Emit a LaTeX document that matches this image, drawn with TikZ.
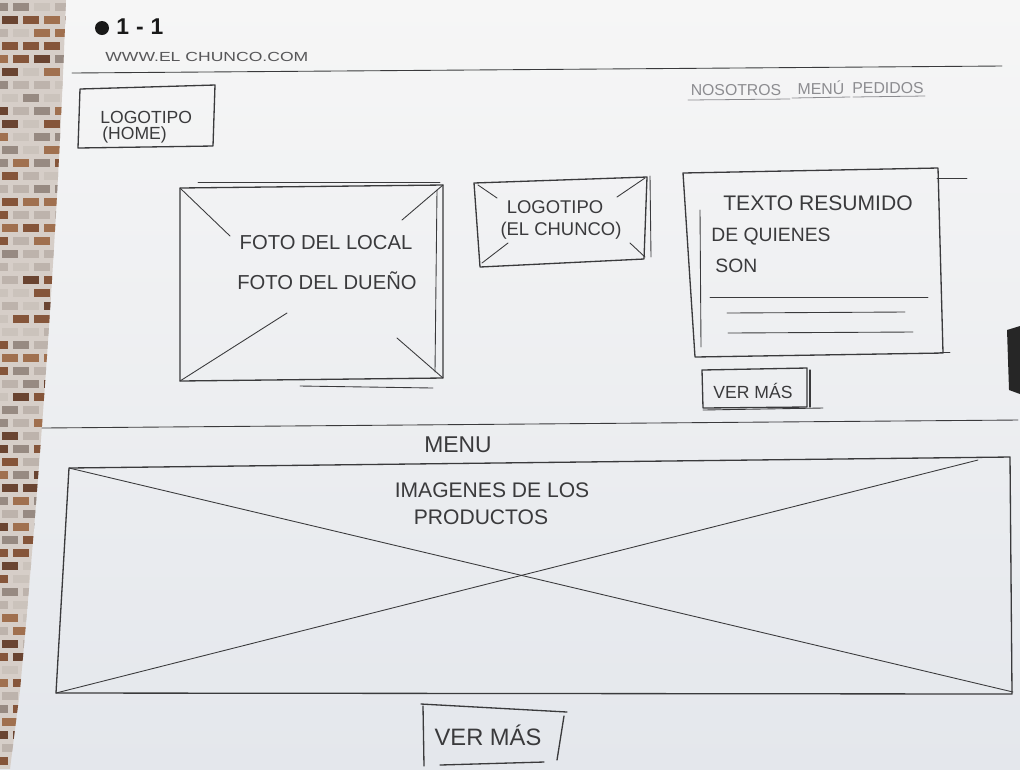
\documentclass[tikz,border=0pt]{standalone}
\usepackage{fontspec}
\setmainfont{Liberation Sans}
\definecolor{ink}{HTML}{3A3A3C}
\definecolor{faint}{HTML}{8C8C90}
\definecolor{papertop}{HTML}{F6F6F6}
\definecolor{paperbot}{HTML}{E4E7EC}
\definecolor{mortar}{HTML}{D6CEC8}
\definecolor{brick0}{HTML}{85553A}
\definecolor{brick1}{HTML}{A0704F}
\definecolor{brick2}{HTML}{BDB3AC}
\definecolor{brick3}{HTML}{978A82}
\definecolor{brick4}{HTML}{6A4431}
\definecolor{brick5}{HTML}{CBC3BC}
\begin{document}
\begin{tikzpicture}[x=0.02cm,y=-0.02cm,
  pen/.style={draw=ink, line width=0.75pt, line cap=round, line join=round},
  thin/.style={draw=ink, line width=0.5pt, line cap=round},
  light/.style={draw=faint, line width=0.45pt, line cap=round},
  hand/.style={text=ink, inner sep=0pt, align=center},
  navtext/.style={text=faint, inner sep=0pt, font=\fontsize{9}{10}\selectfont}]
\useasboundingbox (0,0) rectangle (1020,769);
% paper
\shade[top color=papertop, bottom color=paperbot] (0,0) rectangle (1020,769);
% brick strip on the left
\begin{scope}
  \clip (0,0) -- (66,0) .. controls (58,220) and (42,450) .. (20,690) -- (10,769) -- (0,769) -- cycle;
  \fill[mortar] (0,0) rectangle (70,769);
  \pgfmathsetseed{11}
  \foreach \r in {0,...,59}{
    \foreach \c in {0,...,3}{
      \pgfmathrandominteger{\k}{0}{5}
      \pgfmathsetmacro{\xo}{mod(\r,2)*10-8}
      \fill[brick\k] ({\c*21+\xo},{\r*13+3}) rectangle ++(16,8);
    }
  }
\end{scope}
% dark object at right edge
\fill[black!85] (1007,330) -- (1020,326) -- (1020,394) -- (1009,390) -- cycle;

% header
\fill[black!90] (102,28) circle (7);
\node[hand, font=\bfseries\fontsize{13}{14}\selectfont, anchor=west, text=black!90] (num) at (116,27) {1\hspace{4pt}-\hspace{4pt}1};
\node[hand, anchor=west, text=ink!85] (url) at (105,57) {\scalebox{1}[0.75]{\fontsize{10}{11}\selectfont WWW.EL CHUNCO.COM}};
\draw[thin] (72,73) -- (1002,66);

% navigation
\node[navtext] (nav1) at (736,90) {NOSOTROS};
\node[navtext] (nav2) at (821,88) {MENÚ};
\node[navtext] (nav3) at (888,88) {PEDIDOS};
\draw[light] (688,100) -- (790,99);
\draw[light] (792,98) -- (850,97);
\draw[light] (853,97) -- (925,96);

% logotipo (home)
\draw[pen] (80,89) -- (215,85) -- (213,146) -- (78,148) -- cycle;
\node[hand, font=\fontsize{10}{11}\selectfont, anchor=west] (logoh1) at (100,117) {LOGOTIPO};
\node[hand, font=\fontsize{10}{11}\selectfont, anchor=west] (logoh2) at (102,135) {(HOME)};

% photo box
\draw[pen] (180,188) -- (443,185) -- (443,378) -- (180,381) -- cycle;
\draw[thin] (198,182) -- (440,182);
\draw[thin] (437,190) -- (435,372);
\draw[thin] (300,386) -- (433,388);
\draw[thin] (180,188) -- (230,236);
\draw[thin] (443,185) -- (402,220);
\draw[thin] (180,381) -- (287,313);
\draw[thin] (443,378) -- (397,338);
\node[hand, font=\fontsize{11.5}{12}\selectfont] (foto1) at (326,243) {FOTO DEL LOCAL};
\node[hand, font=\fontsize{11.5}{12}\selectfont] (foto2) at (327,281) {FOTO DEL DUEÑO};

% logotipo (el chunco)
\draw[pen] (474,183) -- (647,177) -- (644,259) -- (480,267) -- cycle;
\draw[thin] (650,176) -- (651,257);
\draw[thin] (478,185) -- (497,198);
\draw[thin] (645,178) -- (617,197);
\draw[thin] (482,263) -- (508,243);
\draw[thin] (645,257) -- (630,243);
\node[hand, font=\fontsize{10.5}{11}\selectfont] (logoc1) at (555,207) {LOGOTIPO};
\node[hand, font=\fontsize{10.5}{11}\selectfont] (logoc2) at (561,231) {(EL CHUNCO)};

% summary text box
\draw[pen] (683,173) -- (938,168) -- (943,353) -- (695,357) -- cycle;
\draw[thin] (937,178) -- (967,178);
\draw[thin] (700,210) -- (701,347);
\draw[thin] (940,352) -- (950,352);
\node[hand, font=\fontsize{12}{13}\selectfont] (txt1) at (818,203) {TEXTO RESUMIDO};
\node[hand, font=\fontsize{11}{12}\selectfont, anchor=west] (txt2) at (711,237) {DE QUIENES};
\node[hand, font=\fontsize{11}{12}\selectfont, anchor=west] (txt3) at (715,266) {SON};
\draw[thin] (710,297) -- (928,297);
\draw[thin] (727,313) -- (905,312);
\draw[thin] (728,333) -- (913,332);

% ver mas (top)
\draw[pen] (702,370) -- (807,368) -- (807,407) -- (703,408) -- cycle;
\draw[pen] (810,370) -- (810,407);
\draw[thin] (703,410) -- (823,408);
\node[hand, font=\fontsize{10}{11}\selectfont] (ver1) at (753,391) {VER MÁS};

% separator
\draw[thin] (42,428) -- (1018,420);
\node[hand, font=\fontsize{13}{14}\selectfont] (menu) at (458,445) {MENU};

% products box
\draw[pen] (69,468) -- (1010,457) -- (1012,694) -- (56,693) -- cycle;
\draw[thin] (69,468) -- (1013,692);
\draw[thin] (56,693) -- (978,460);
\node[hand, font=\fontsize{12}{13}\selectfont] (img1) at (492,490) {IMAGENES DE LOS};
\node[hand, font=\fontsize{12}{13}\selectfont] (img2) at (481,517) {PRODUCTOS};

% ver mas (bottom)
\draw[pen] (421,704) -- (567,712);
\draw[pen] (564,716) -- (557,760);
\draw[pen] (423,706) -- (424,766);
\draw[pen] (440,765) -- (544,762);
\node[hand, font=\fontsize{13.5}{14}\selectfont] (ver2) at (488,735) {VER MÁS};
\end{tikzpicture}
\end{document}
